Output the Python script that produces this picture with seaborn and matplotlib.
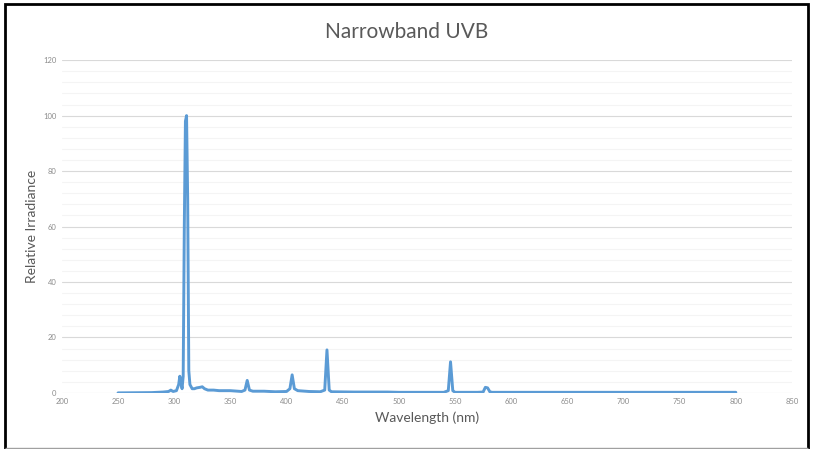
import pandas as pd
import seaborn as sns
import matplotlib.pyplot as plt
from matplotlib.patches import Rectangle
from matplotlib.ticker import MultipleLocator

# spectrum (nm, relative irradiance)
wavelength = [250, 280, 290, 295, 297, 299, 302, 304, 305, 306, 307, 308, 309, 310, 311,
              312, 313, 314, 316, 318, 320, 323, 325, 327, 330, 335, 340, 350, 360, 363,
              365, 367, 370, 380, 390, 400, 403, 405, 407, 410, 420, 430, 434, 436, 438,
              440, 460, 480, 490, 500, 520, 540, 544, 546, 548, 550, 570, 575, 577, 579,
              581, 583, 600, 700, 800]
irradiance = [0.0, 0.1, 0.3, 0.5, 1.0, 0.5, 0.8, 3.0, 6.0, 4.0, 1.5, 6.0, 60.0, 98.0, 100.0,
              70.0, 8.0, 3.0, 1.5, 1.5, 1.8, 2.0, 2.2, 1.5, 1.0, 1.0, 0.8, 0.8, 0.5, 1.0,
              4.5, 1.0, 0.6, 0.6, 0.4, 0.5, 1.5, 6.5, 1.5, 0.8, 0.5, 0.4, 1.0, 15.5, 1.0,
              0.4, 0.3, 0.3, 0.3, 0.2, 0.2, 0.2, 0.8, 11.2, 0.8, 0.2, 0.2, 0.3, 2.0, 1.8,
              0.4, 0.2, 0.2, 0.2, 0.2]

df = pd.DataFrame({"Wavelength": wavelength, "Irradiance": irradiance})

sns.set_style("white")
plt.rcParams['font.family'] = ['Lato', 'DejaVu Sans']

fig = plt.figure(figsize=(8.14, 4.49), dpi=100)
ax = fig.add_axes([0.076, 0.125, 0.897, 0.741])

sns.lineplot(data=df, x="Wavelength", y="Irradiance", ax=ax, color="#5B9BD5", linewidth=2.1)

ax.set_xlim(200, 850)
ax.set_ylim(0, 120)
ax.xaxis.set_major_locator(MultipleLocator(50))
ax.yaxis.set_major_locator(MultipleLocator(20))
ax.yaxis.set_minor_locator(MultipleLocator(4))
ax.grid(which="major", axis="y", color="#d9d9d9", linewidth=0.8)
ax.grid(which="minor", axis="y", color="#f4f4f4", linewidth=0.8)
ax.set_axisbelow(True)
for s in ax.spines.values():
    s.set_visible(False)
ax.tick_params(axis="both", which="both", length=0, labelsize=5.5, labelcolor="#8c8c8c", pad=4)

# title is centred on the whole picture, not on the plot area
fig.text(0.5, 0.929, "Narrowband UVB", fontsize=15, color="#595959", ha="center", va="center")
ax.set_xlabel("Wavelength (nm)", fontsize=10, color="#595959")
ax.set_ylabel("Relative Irradiance", fontsize=10, color="#595959")

# frame around the picture
fig.patches.append(Rectangle((0.006, -0.01), 0.987, 1.001, transform=fig.transFigure,
                             fill=False, edgecolor="black", linewidth=2.0))
fig.patches.append(Rectangle((0.006, 0.002), 0.987, 0.0, transform=fig.transFigure,
                             fill=False, edgecolor="#a0a0a0", linewidth=1.0))

fig.savefig("out.png", dpi=100)
